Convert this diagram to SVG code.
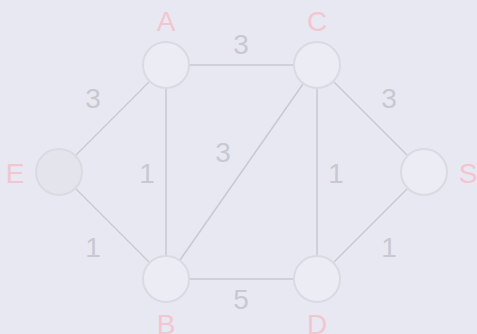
<svg xmlns="http://www.w3.org/2000/svg" width="477" height="334" viewBox="0 0 477 334">
<style>
.edge{stroke:#c9c9d3;stroke-width:1.5;fill:none}
.node{fill:#ececf5;stroke:#dadae3;stroke-width:2}
.name{font-family:"Liberation Sans",Arial,sans-serif;font-size:28px;fill:#f2c6cf;text-anchor:middle}
.w{font-family:"Liberation Sans",Arial,sans-serif;font-size:28px;fill:#c8c8d1;text-anchor:middle}
</style>
<rect width="477" height="334" fill="#e8e8f2"/>
<g id="connectors">
<line class="edge" x1="189" y1="65" x2="294" y2="65"/>
<line class="edge" x1="189" y1="279" x2="294" y2="279"/>
<line class="edge" x1="166" y1="88" x2="166" y2="256"/>
<line class="edge" x1="317" y1="88" x2="317" y2="256"/>
<line class="edge" x1="76" y1="155" x2="149" y2="82"/>
<line class="edge" x1="76" y1="189" x2="149" y2="262"/>
<line class="edge" x1="334" y1="82" x2="407" y2="155"/>
<line class="edge" x1="334" y1="262" x2="407" y2="189"/>
<line class="edge" x1="180" y1="260" x2="303" y2="84"/>
<text class="w" x="241" y="54">3</text>
<text class="w" x="93" y="108">3</text>
<text class="w" x="389" y="108">3</text>
<text class="w" x="223" y="162">3</text>
<text class="w" x="147" y="183">1</text>
<text class="w" x="336" y="183">1</text>
<text class="w" x="93" y="257">1</text>
<text class="w" x="389" y="257">1</text>
<text class="w" x="241" y="309">5</text>
</g>
<g id="A"><circle class="node" cx="166" cy="65" r="23"/><text class="name" x="166" y="31">A</text></g>
<g id="C"><circle class="node" cx="317" cy="65" r="23"/><text class="name" x="317" y="31">C</text></g>
<g id="E"><circle class="node" cx="59" cy="172" r="23" style="fill:#e4e4ec"/><text class="name" x="15" y="183">E</text></g>
<g id="S"><circle class="node" cx="424" cy="172" r="23"/><text class="name" x="468" y="183">S</text></g>
<g id="B"><circle class="node" cx="166" cy="279" r="23"/><text class="name" x="166" y="334">B</text></g>
<g id="D"><circle class="node" cx="317" cy="279" r="23"/><text class="name" x="317" y="334">D</text></g>
</svg>
